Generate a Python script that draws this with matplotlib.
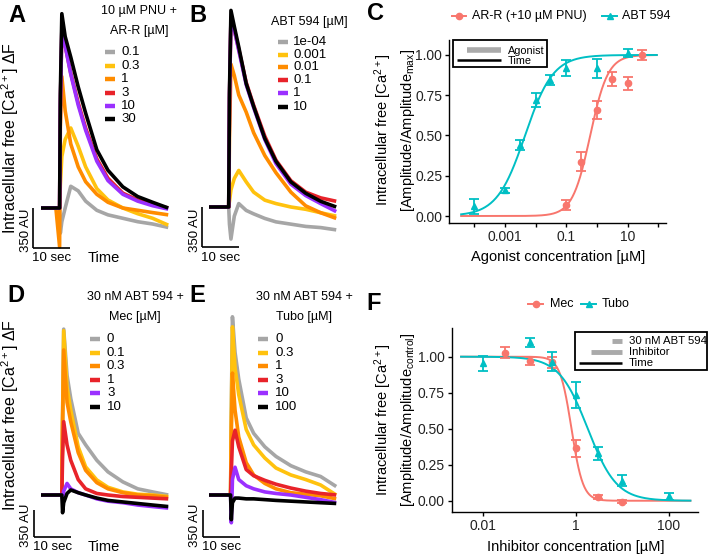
import matplotlib
matplotlib.use('Agg')
import matplotlib.pyplot as plt
from matplotlib.lines import Line2D
from matplotlib.patches import Rectangle
import numpy as np

plt.rcParams['font.family'] = ['Liberation Sans', 'DejaVu Sans']
plt.rcParams['mathtext.fontset'] = 'custom'
plt.rcParams['mathtext.rm'] = 'Liberation Sans'
plt.rcParams['mathtext.it'] = 'Liberation Sans:italic'
plt.rcParams['mathtext.bf'] = 'Liberation Sans:bold'

# ------------------------------------------------------------------ data
trace_colors = ['#A6A6A6', '#FFC20E', '#FF8C00', '#E8232A', '#9B30FF', '#000000']

# Panel A: 10 uM PNU + AR-R
conc_A = ['0.1', '0.3', '1', '3', '10', '30']
time_A = [0, 2, 4, 5.0, 5.2, 5.6, 6.5, 8, 10, 12, 15, 18, 22, 26, 30, 34.2]
A_0p1 = [0, 0, 0, 0, -220, -120, 0, 190, 150, 60, -20, -60, -90, -120, -140, -170]
A_0p3 = [0, 0, 0, 0, 200, 450, 600, 700, 540, 360, 170, 70, 0, -50, -90, -150]
A_1 = [0, 0, 0, -340, 700, 1150, 850, 560, 360, 230, 120, 50, 0, -20, -40, -60]
A_3 = [0, 0, 0, 0, 900, 1550, 1420, 1180, 920, 700, 430, 260, 130, 70, 30, 0]
A_10 = [0, 0, 0, 0, 900, 1550, 1420, 1170, 900, 680, 410, 240, 120, 60, 20, -10]
A_30 = [0, 0, 0, 0, 1000, 1700, 1500, 1320, 1060, 830, 510, 330, 185, 100, 50, 0]

# Panel B: ABT 594
conc_B = ['1e-04', '0.001', '0.01', '0.1', '1', '10']
time_B = [0, 2, 4, 5.3, 5.5, 5.9, 6.8, 8, 10, 12, 15, 18, 22, 26, 30, 34.2]
B_1em4 = [0, 0, 0, 0, -150, -280, -80, 30, -30, -60, -100, -130, -150, -170, -180, -200]
B_0p001 = [0, 0, 0, 0, 50, 150, 250, 320, 220, 130, 60, 30, 0, -20, -50, -80]
B_0p01 = [0, 0, 0, 0, 600, 1250, 1150, 980, 830, 650, 450, 300, 130, 10, -50, -100]
B_0p1 = [0, 0, 0, 0, 950, 1650, 1550, 1380, 1090, 890, 620, 410, 230, 130, 80, 50]
B_1 = [0, 0, 0, 0, 950, 1650, 1550, 1370, 1070, 870, 590, 380, 200, 100, 30, -40]
B_10 = [0, 0, 0, 0, 1000, 1720, 1580, 1400, 1080, 880, 600, 400, 220, 120, 50, 0]

# Panel D: 30 nM ABT 594 + Mec
conc_D = ['0', '0.1', '0.3', '1', '3', '10']
time_D = [0, 2, 4, 5.6, 5.8, 6.1, 7, 8, 10, 12, 15, 18, 22, 26, 30, 34.2]
D_0 = [0, 0, 0, 0, 1000, 2150, 1550, 1250, 800, 650, 450, 300, 170, 80, 40, 0]
D_0p1 = [0, 0, 0, 0, 1000, 2130, 1400, 1100, 625, 365, 195, 100, 40, 10, 0, -20]
D_0p3 = [0, 0, 0, 0, 900, 1880, 1200, 950, 550, 320, 160, 80, 30, 0, -10, -30]
D_1 = [0, 0, 0, 0, 500, 950, 650, 450, 200, 80, 20, 0, -20, -30, -40, -50]
D_3 = [0, 0, 0, 0, -50, 50, 150, 80, 30, 0, -50, -80, -100, -130, -150, -170]
D_10 = [0, 0, 0, 0, -230, -100, 20, 65, 30, 0, -40, -70, -90, -110, -130, -150]

# Panel E: 30 nM ABT 594 + Tubo
conc_E = ['0', '0.3', '1', '3', '10', '100']
time_E = [0, 2, 4, 5.8, 6.0, 6.3, 7, 8, 10, 12, 15, 18, 22, 26, 30, 34.2]
E_0 = [0, 0, 0, 0, 1100, 2310, 1850, 1500, 1000, 800, 625, 500, 380, 300, 240, 110]
E_0p3 = [0, 0, 0, 0, 1050, 2180, 1650, 1300, 850, 650, 480, 350, 260, 200, 130, 0]
E_1 = [0, 0, 0, 0, 800, 1580, 1100, 750, 420, 260, 150, 80, 30, 10, -10, -50]
E_3 = [0, 0, 0, 0, 300, 700, 840, 625, 330, 250, 190, 140, 90, 50, 20, 0]
E_10 = [0, 0, 0, 0, -360, 200, 360, 200, 120, 80, 40, 20, 0, -30, -60, -100]
E_100 = [0, 0, 0, 0, -320, -100, -40, -40, -50, -50, -60, -70, -80, -90, -100, -110]

# Panel C: concentration-response (agonists)
conc_arr = [0.1, 0.3, 1, 3, 10, 30]
resp_arr = [0.068, 0.337, 0.658, 0.85, 0.824, 1.0]
err_arr = [0.03, 0.06, 0.055, 0.045, 0.04, 0.03]
conc_abt = [1e-4, 1e-3, 3e-3, 1e-2, 3e-2, 0.1, 1, 10]
resp_abt = [0.06, 0.16, 0.44, 0.72, 0.845, 0.917, 0.917, 1.01]
err_abt = [0.045, 0.015, 0.03, 0.045, 0.03, 0.05, 0.06, 0.025]
ec50_arr, hill_arr = 0.6, 1.5
ec50_abt, hill_abt = 0.0045, 0.95

# Panel F: inhibition
conc_mec = [0.03, 0.1, 0.3, 1, 3, 10]
resp_mec = [1.028, 0.97, 0.96, 0.363, 0.028, -0.007]
err_mec = [0.04, 0.03, 0.04, 0.06, 0.015, 0.01]
conc_tubo = [0.01, 0.1, 0.3, 1, 3, 10, 100]
resp_tubo = [0.954, 1.10, 0.965, 0.734, 0.33, 0.14, 0.03]
err_tubo = [0.05, 0.03, 0.065, 0.09, 0.045, 0.04, 0.025]
ic50_mec, hill_mec = 0.8, 3.5
ic50_tubo, hill_tubo = 1.8, 1.4

SALMON = '#F8766D'
CYAN = '#00BFC4'

# ------------------------------------------------------------------ figure
W, H = 709, 557
fig = plt.figure(figsize=(W / 100, H / 100), dpi=100)
fig.patch.set_facecolor('white')


def fx(x):
    return x / W


def fy(y):
    return 1 - y / H


def fig_line(x0, x1, y0, y1, **kw):
    fig.add_artist(Line2D([fx(x0), fx(x1)], [fy(y0), fy(y1)],
                          transform=fig.transFigure, **kw))


def fig_text(x, y, s, **kw):
    fig.text(fx(x), fy(y), s, **kw)


def trace_panel(xa, xb, ya, yb, t0x, basey, pxs, aupx, times, series,
                barx, bartop_y):
    ax = fig.add_axes([fx(xa), fy(yb), (xb - xa) / W, (yb - ya) / H])
    ax.set_xlim((xa - t0x) / pxs, (xb - t0x) / pxs)
    ax.set_ylim((basey - yb) * aupx, (basey - ya) * aupx)
    ax.axis('off')
    for vals, c in zip(series, trace_colors):
        ax.plot(times, vals, color=c, lw=2.6, solid_joinstyle='round',
                solid_capstyle='butt')
    bt = (barx - t0x) / pxs
    top = (basey - bartop_y) * aupx
    ax.plot([bt, bt], [top, top - 350], color='black', lw=1.2,
            solid_capstyle='butt')
    ax.plot([bt, bt + 10], [top - 350, top - 350], color='black', lw=1.2,
            solid_capstyle='butt')
    return ax


def trace_legend(title_lines, title_x, title_ys, key_x0, label_x, rows, labels):
    for t, ty in zip(title_lines, title_ys):
        fig_text(title_x, ty, t, ha='center', va='center', fontsize=9)
    for r, lab, c in zip(rows, labels, trace_colors):
        fig_line(key_x0, key_x0 + 10, r, r, color=c, lw=3.2,
                 solid_capstyle='butt')
        fig_text(label_x, r, lab, ha='left', va='center', fontsize=9.5)


PXS = 3.72
# A
trace_panel(25, 185, 0, 275, 41, 208, PXS, 8.75, time_A,
            [A_0p1, A_0p3, A_1, A_3, A_10, A_30], 33, 208)
# B
trace_panel(195, 350, 0, 275, 209, 207, PXS, 8.75, time_B,
            [B_1em4, B_0p001, B_0p01, B_0p1, B_1, B_10], 202, 207)
# D
trace_panel(25, 185, 285, 557, 41, 495, PXS, 350 / 27, time_D,
            [D_0, D_0p1, D_0p3, D_1, D_3, D_10], 34, 510)
# E
trace_panel(195, 350, 285, 557, 209, 495, PXS, 350 / 27, time_E,
            [E_0, E_0p3, E_1, E_3, E_10, E_100], 203, 510)

# trace labels
ylab_tr = r'Intracellular free [Ca$^{2+}$] ΔF'
fig_text(10.5, 138, ylab_tr, rotation=90, ha='center', va='center', fontsize=11.5)
fig_text(10.5, 415, ylab_tr, rotation=90, ha='center', va='center', fontsize=11.5)
for (x, y) in [(26.5, 230), (195, 230), (26.5, 525), (195, 525)]:
    fig_text(x, y, '350 AU', rotation=90, ha='center', va='center', fontsize=9.5)
for (x, y) in [(52, 258), (221, 258), (53, 547), (222, 547)]:
    fig_text(x, y, '10 sec', ha='center', va='center', fontsize=9.5)
fig_text(104, 258, 'Time', ha='center', va='center', fontsize=10.5)
fig_text(104, 547, 'Time', ha='center', va='center', fontsize=10.5)

rows_top_A = [52, 66, 79, 93, 106, 119]
rows_top_B = [42, 55, 67, 80, 93, 107]
rows_bot = [339, 353, 366, 380, 393, 407]
trace_legend(['10 µM PNU +', 'AR-R [µM]'], 139, [11, 31], 105, 121,
             rows_top_A, conc_A)
trace_legend(['ABT 594 [µM]'], 309, [22], 278, 293, rows_top_B, conc_B)
trace_legend(['30 nM ABT 594 +', 'Mec [µM]'], 135, [297, 317], 90, 107,
             rows_bot, conc_D)
trace_legend(['30 nM ABT 594 +', 'Tubo [µM]'], 304, [297, 317], 258, 275,
             rows_bot, conc_E)

# panel letters
for (x, y, s) in [(17, 15, 'A'), (198, 15, 'B'), (376, 13, 'C'),
                  (16, 295, 'D'), (197, 295, 'E'), (374, 303, 'F')]:
    fig_text(x, y, s, ha='center', va='center', fontsize=17, fontweight='bold')


# ------------------------------------------------------------------ dose-response axes
def style_dr(ax):
    for s in ['top', 'right']:
        ax.spines[s].set_visible(False)
    for s in ['left', 'bottom']:
        ax.spines[s].set_linewidth(1.0)
    ax.tick_params(direction='out', length=3, width=1.0, labelsize=10,
                   labelcolor='#222222', pad=2)
    ax.minorticks_off()
    ax.set_facecolor('white')


def sig_up(x, ec, n):
    return 1.0 / (1.0 + (ec / x) ** n)


def sig_down(x, ic, n):
    return 1.0 / (1.0 + (x / ic) ** n)


# C
axC = fig.add_axes([fx(449.3), fy(222.7), (665.7 - 449.3) / W, (222.7 - 40) / H])
axC.set_xscale('log')
axC.set_xlim(10 ** -4.816, 10 ** 2.24)
axC.set_ylim(-0.0416, 1.093)
xs = np.logspace(-4.43, 1.95, 300)
axC.plot(xs, sig_up(xs, ec50_arr, hill_arr), color=SALMON, lw=1.4)
axC.plot(xs, sig_up(xs, ec50_abt, hill_abt), color=CYAN, lw=1.4)
axC.errorbar(conc_arr, resp_arr, yerr=err_arr, fmt='o', color=SALMON, ms=4.5,
             capsize=3.5, elinewidth=1.3, capthick=1.3)
axC.errorbar(conc_abt, resp_abt, yerr=err_abt, fmt='^', color=CYAN, ms=5,
             capsize=3.5, elinewidth=1.3, capthick=1.3)
axC.set_xticks([1e-4, 1e-3, 1e-2, 1e-1, 1, 10, 100])
axC.set_xticklabels(['', '0.001', '', '0.1', '', '10', ''])
axC.set_yticks([0, 0.25, 0.5, 0.75, 1.0])
axC.set_yticklabels(['0.00', '0.25', '0.50', '0.75', '1.00'])
style_dr(axC)
fig_text(558, 257, 'Agonist concentration [µM]', ha='center', va='center',
         fontsize=10.5)
fig_text(383, 130, r'Intracellular free [Ca$^{2+}$]', rotation=90,
         ha='center', va='center', fontsize=10.5)
fig_text(408, 130, r'[Amplitude/Amplitude$_\mathrm{max}$]', rotation=90,
         ha='center', va='center', fontsize=10.5)

# C top legend
fig_line(452, 466, 16, 16, color=SALMON, lw=1.4)
fig.add_artist(Line2D([fx(459)], [fy(16)], marker='o', ms=4.5, color=SALMON,
                      transform=fig.transFigure))
fig_text(471.5, 16, 'AR-R (+10 µM PNU)', ha='left', va='center', fontsize=9)
fig_line(602, 617, 16, 16, color=CYAN, lw=1.4)
fig.add_artist(Line2D([fx(609.5)], [fy(16)], marker='^', ms=5, color=CYAN,
                      transform=fig.transFigure))
fig_text(622, 16, 'ABT 594', ha='left', va='center', fontsize=9)

# C inset
fig.add_artist(Rectangle((fx(452.7), fy(66.7)), (546.7 - 452.7) / W,
                         (66.7 - 40.5) / H, transform=fig.transFigure,
                         fill=False, edgecolor='black', lw=1.3))
fig_line(467, 501, 50, 50, color='#AAAAAA', lw=4, solid_capstyle='butt')
fig_line(457, 501, 59.5, 59.5, color='black', lw=1.8, solid_capstyle='butt')
fig_text(508, 51, 'Agonist', ha='left', va='center', fontsize=7.8)
fig_text(508, 60.5, 'Time', ha='left', va='center', fontsize=7.8)

# F
axF = fig.add_axes([fx(451.7), fy(511.7), (698.3 - 451.7) / W, (511.7 - 328.3) / H])
axF.set_xscale('log')
axF.set_xlim(10 ** -2.682, 10 ** 2.64)
axF.set_ylim(-0.076, 1.197)
xs = np.logspace(-2.48, 2.47, 300)
axF.plot(xs, sig_down(xs, ic50_mec, hill_mec), color=SALMON, lw=1.4)
axF.plot(xs, sig_down(xs, ic50_tubo, hill_tubo), color=CYAN, lw=1.4)
axF.errorbar(conc_mec, resp_mec, yerr=err_mec, fmt='o', color=SALMON, ms=4.5,
             capsize=3.5, elinewidth=1.3, capthick=1.3)
axF.errorbar(conc_tubo, resp_tubo, yerr=err_tubo, fmt='^', color=CYAN, ms=5,
             capsize=3.5, elinewidth=1.3, capthick=1.3)
axF.set_xticks([0.01, 1, 100])
axF.set_xticklabels(['0.01', '1', '100'])
axF.set_yticks([0, 0.25, 0.5, 0.75, 1.0])
axF.set_yticklabels(['0.00', '0.25', '0.50', '0.75', '1.00'])
style_dr(axF)
fig_text(576, 547, 'Inhibitor concentration [µM]', ha='center', va='center',
         fontsize=10.5)
fig_text(383, 420, r'Intracellular free [Ca$^{2+}$]', rotation=90,
         ha='center', va='center', fontsize=10.5)
fig_text(408, 420, r'[Amplitude/Amplitude$_\mathrm{control}$]', rotation=90,
         ha='center', va='center', fontsize=10.5)

# F top legend
fig_line(528, 543, 304, 304, color=SALMON, lw=1.4)
fig.add_artist(Line2D([fx(535.5)], [fy(304)], marker='o', ms=4.5, color=SALMON,
                      transform=fig.transFigure))
fig_text(550, 304, 'Mec', ha='left', va='center', fontsize=9)
fig_line(581, 596, 304, 304, color=CYAN, lw=1.4)
fig.add_artist(Line2D([fx(588.5)], [fy(304)], marker='^', ms=5, color=CYAN,
                      transform=fig.transFigure))
fig_text(602, 304, 'Tubo', ha='left', va='center', fontsize=9)

# F inset
fig.add_artist(Rectangle((fx(575), fy(370)), (706.5 - 575) / W,
                         (370 - 331.7) / H, transform=fig.transFigure,
                         fill=False, edgecolor='black', lw=1.3))
fig_line(611.7, 621.7, 341, 341, color='#AAAAAA', lw=3.5, solid_capstyle='butt')
fig_line(590.7, 621.7, 351.5, 351.5, color='#AAAAAA', lw=3.5, solid_capstyle='butt')
fig_line(579, 621.7, 362.7, 362.7, color='black', lw=1.8, solid_capstyle='butt')
fig_text(629, 341.5, '30 nM ABT 594', ha='left', va='center', fontsize=8.2)
fig_text(629, 352, 'Inhibitor', ha='left', va='center', fontsize=8.2)
fig_text(629, 362.7, 'Time', ha='left', va='center', fontsize=8.2)

fig.savefig('out.png', dpi=100, facecolor='white')
